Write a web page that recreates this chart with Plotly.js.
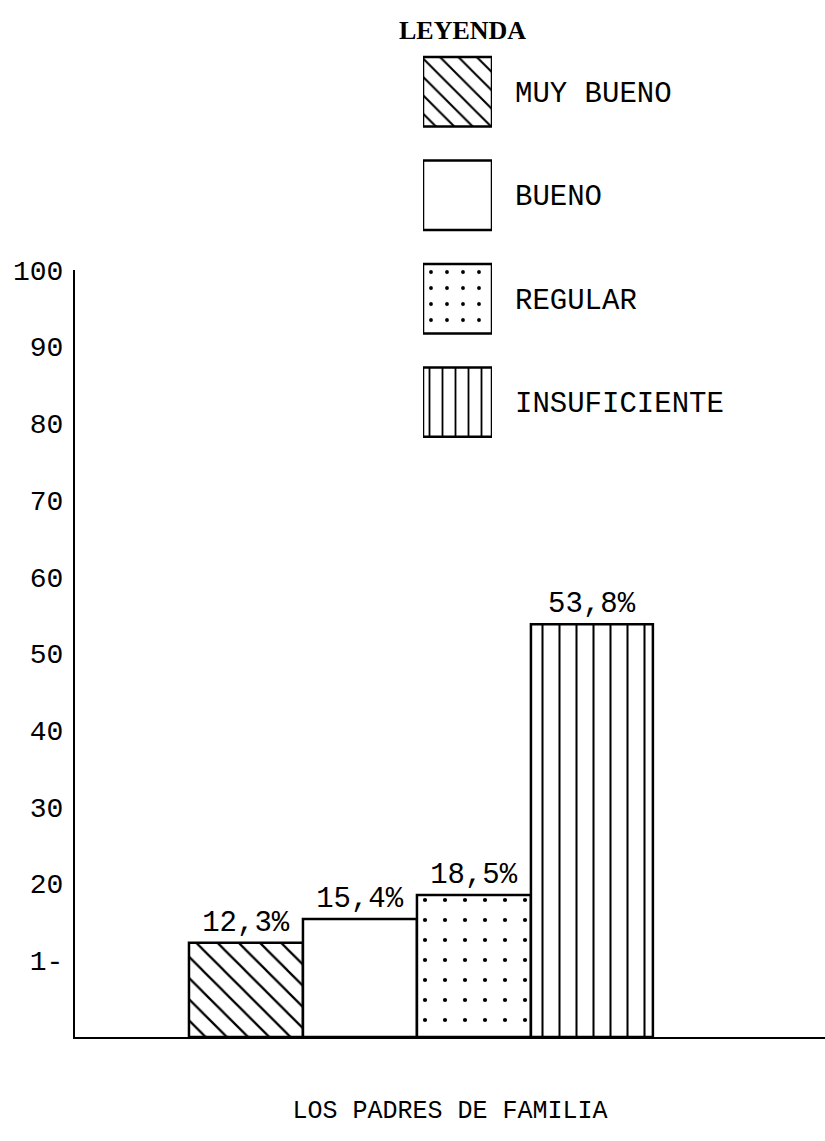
<!DOCTYPE html>
<html>
<head>
<meta charset="utf-8">
<script src="https://cdn.plot.ly/plotly-3.0.1.min.js"></script>
<style>html,body{margin:0;padding:0;background:#fff;}#chart{width:825px;height:1141px;}</style>
</head>
<body>
<div id="chart"></div>
<script>
// ---- data ----
const categories = ["MUY BUENO", "BUENO", "REGULAR", "INSUFICIENTE"];
const values = [12.3, 15.4, 18.5, 53.8];
const tickValues = [10, 20, 30, 40, 50, 60, 70, 80, 90, 100];
const tickLabels = ["1-", "20", "30", "40", "50", "60", "70", "80", "90", "100"];
const xTitle = "LOS PADRES DE FAMILIA";
const legendTitle = "LEYENDA";

// ---- styles ----
const patternShapes = ["\\", "", ".", "|"];
const mono = "Liberation Mono, Courier New, monospace";

const mainBars = {
  type: "bar",
  x: categories,
  y: values,
  xaxis: "x", yaxis: "y",
  width: [1, 1, 1, 1.07],
  offset: [-0.5, -0.5, -0.5, -0.5],
  texttemplate: "%{y:.1f}%",
  textposition: "outside",
  constraintext: "none",
  cliponaxis: false,
  textfont: {family: mono, size: 29, color: "#000"},
  marker: {
    color: "#fff",
    line: {color: "#000", width: 2.5},
    pattern: {
      shape: patternShapes,
      fgcolor: "#000",
      fgopacity: 1,
      bgcolor: "#fff",
      size: [15, 10, 20, 17],
      solidity: [0.15, 0.1, 0.035, 0.12],
      fillmode: "overlay"
    }
  },
  hoverinfo: "skip",
  showlegend: false
};

const legendSwatches = {
  type: "bar",
  orientation: "h",
  y: categories,
  x: categories.map(() => 1),
  xaxis: "x2", yaxis: "y2",
  width: categories.map(() => 0.67),
  marker: {
    color: "#fff",
    line: {color: "#000", width: 2.5},
    pattern: {
      shape: patternShapes,
      fgcolor: "#000",
      fgopacity: 1,
      bgcolor: "#fff",
      size: [13, 10, 16, 13],
      solidity: [0.16, 0.1, 0.045, 0.14],
      fillmode: "overlay"
    }
  },
  hoverinfo: "skip",
  showlegend: false
};

const layout = {
  width: 825, height: 1141,
  margin: {l: 75, r: 0, t: 20, b: 104},
  paper_bgcolor: "#fff",
  plot_bgcolor: "rgba(0,0,0,0)",
  separators: ",.",
  bargap: 0,
  font: {family: mono, color: "#000"},
  xaxis: {
    type: "category",
    domain: [0, 1],
    range: [-1.5, 5.08],
    showticklabels: false,
    ticks: "",
    showgrid: false,
    zeroline: false,
    showline: true, linecolor: "#000", linewidth: 2,
    fixedrange: true,
    title: {text: xTitle, font: {family: mono, size: 25, color: "#000"}, standoff: 62}
  },
  yaxis: {
    domain: [0, 0.7542],
    range: [0, 100],
    tickvals: tickValues,
    ticktext: tickLabels,
    tickfont: {family: mono, size: 28, color: "#000"},
    ticks: "",
    ticklabelstandoff: 4,
    showgrid: false,
    zeroline: false,
    showline: true, linecolor: "#000", linewidth: 2,
    fixedrange: true
  },
  xaxis2: {
    anchor: "y2",
    domain: [0.464, 0.556],
    range: [0, 1],
    visible: false,
    fixedrange: true
  },
  yaxis2: {
    anchor: "x2",
    type: "category",
    domain: [0.5733, 0.9803],
    autorange: "reversed",
    side: "right",
    showline: false, showgrid: false, zeroline: false,
    ticks: "",
    ticklabelstandoff: 22,
    tickfont: {family: mono, size: 29, color: "#000"},
    fixedrange: true
  },
  annotations: [{
    text: "<b>" + legendTitle + "</b>",
    xref: "paper", yref: "paper",
    x: 0.516, y: 0.990,
    xanchor: "center", yanchor: "middle",
    showarrow: false,
    font: {family: "Liberation Serif, Times New Roman, serif", size: 26, color: "#000"}
  }]
};

Plotly.newPlot("chart", [mainBars, legendSwatches], layout, {staticPlot: true, displayModeBar: false});
</script>
</body>
</html>
